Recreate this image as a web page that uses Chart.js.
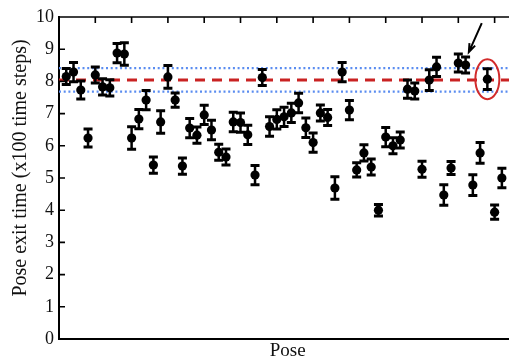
<!DOCTYPE html>
<html>
<head>
<meta charset="utf-8">
<script src="https://cdn.jsdelivr.net/npm/chart.js@4.4.0/dist/chart.umd.min.js"></script>
<style>
    html, body { margin: 0; padding: 0; background: #fff; overflow: hidden; }
    #wrap { position: relative; width: 521px; height: 358px; }
</style>
</head>
<body>
<div id="wrap"><canvas id="poseChart"></canvas></div>
<script>
// exit time of each pose (x100 time steps)
var exitTime = [8.15, 8.29, 7.73, 6.24, 8.2, 7.83, 7.8, 8.88, 8.85, 6.24,
                6.83, 7.42, 5.4, 6.74, 8.14, 7.42, 5.37, 6.55, 6.33, 6.96,
                6.49, 5.8, 5.65, 6.74, 6.72, 6.34, 5.09, 8.12, 6.6, 6.82,
                6.9, 7.02, 7.33, 6.56, 6.1, 7.02, 6.88, 4.69, 8.29, 7.11,
                5.25, 5.78, 5.34, 4.0, 6.27, 6.0, 6.18, 7.76, 7.7, 5.27,
                8.04, 8.45, 4.47, 5.31, 8.57, 8.51, 4.78, 5.78, 8.07, 3.94, 5.0];
// half length of the error bars
var exitErr = [0.25, 0.3, 0.28, 0.28, 0.25, 0.25, 0.25, 0.3, 0.35, 0.35,
               0.3, 0.3, 0.25, 0.35, 0.35, 0.22, 0.25, 0.3, 0.25, 0.3,
               0.3, 0.25, 0.25, 0.3, 0.3, 0.3, 0.3, 0.25, 0.3, 0.3,
               0.3, 0.3, 0.3, 0.3, 0.3, 0.25, 0.25, 0.35, 0.3, 0.3,
               0.22, 0.25, 0.25, 0.18, 0.3, 0.25, 0.25, 0.28, 0.25, 0.25,
               0.32, 0.3, 0.32, 0.2, 0.28, 0.25, 0.32, 0.32, 0.32, 0.22, 0.3];
var meanTime = 8.04;
var bandHigh = 8.41;
var bandLow = 7.68;
var yTicks = [0, 1, 2, 3, 4, 5, 6, 7, 8, 9, 10];
var xTicks = [5, 10, 15, 20, 25, 30, 35, 40, 45, 50, 55, 60];
var xMax = 63;
var circledPose = 59;
// arrow in data coordinates: tail -> tip
var arrowFrom = [58.23, 9.81];
var arrowTo = [56.45, 8.91];

Chart.defaults.font.family = '"Liberation Serif", "Times New Roman", serif';
Chart.defaults.color = '#111';

var points = exitTime.map(function (v, i) { return { x: i + 1, y: v }; });
var hLine = function (v) { return [{ x: 0, y: v }, { x: xMax, y: v }]; };

var extras = {
    id: 'extras',
    afterDatasetsDraw: function (chart) {
        var ctx = chart.ctx, xs = chart.scales.x, ys = chart.scales.y;
        ctx.save();
        ctx.strokeStyle = '#000';
        for (var i = 0; i < exitTime.length; i++) {
            var px = xs.getPixelForValue(i + 1);
            var t = ys.getPixelForValue(exitTime[i] + exitErr[i]);
            var b = ys.getPixelForValue(exitTime[i] - exitErr[i]);
            ctx.lineWidth = 2.5;
            ctx.beginPath();
            ctx.moveTo(px, t); ctx.lineTo(px, b);
            ctx.stroke();
            ctx.lineWidth = 3;
            ctx.beginPath();
            ctx.moveTo(px - 4.5, t); ctx.lineTo(px + 4.5, t);
            ctx.moveTo(px - 4.5, b); ctx.lineTo(px + 4.5, b);
            ctx.stroke();
        }
        // red circle round one pose
        ctx.strokeStyle = '#d22b2b';
        ctx.lineWidth = 2;
        ctx.beginPath();
        ctx.ellipse(xs.getPixelForValue(circledPose), ys.getPixelForValue(exitTime[circledPose - 1]),
            12, 20, 0, 0, Math.PI * 2);
        ctx.stroke();
        // arrow
        var x0 = xs.getPixelForValue(arrowFrom[0]), y0 = ys.getPixelForValue(arrowFrom[1]);
        var x1 = xs.getPixelForValue(arrowTo[0]), y1 = ys.getPixelForValue(arrowTo[1]);
        var ang = Math.atan2(y1 - y0, x1 - x0);
        ctx.strokeStyle = '#000';
        ctx.lineWidth = 2;
        ctx.beginPath();
        ctx.moveTo(x0, y0); ctx.lineTo(x1, y1);
        ctx.moveTo(x1 - 9 * Math.cos(ang - 0.35), y1 - 9 * Math.sin(ang - 0.35));
        ctx.lineTo(x1, y1);
        ctx.lineTo(x1 - 9 * Math.cos(ang + 0.35), y1 - 9 * Math.sin(ang + 0.35));
        ctx.stroke();
        ctx.restore();
    },
    afterDraw: function (chart) {
        var ctx = chart.ctx, xs = chart.scales.x, ys = chart.scales.y, a = chart.chartArea;
        ctx.save();
        ctx.strokeStyle = '#000';
        ctx.lineWidth = 1.6;
        ctx.beginPath();
        ctx.moveTo(a.left, a.top); ctx.lineTo(a.right, a.top);
        xTicks.forEach(function (v) {
            var px = xs.getPixelForValue(v);
            ctx.moveTo(px, a.top); ctx.lineTo(px, a.top + 6);
        });
        yTicks.forEach(function (v) {
            var py = ys.getPixelForValue(v);
            ctx.moveTo(a.left, py); ctx.lineTo(a.left + 6, py);
        });
        ctx.stroke();
        // y axis title
        ctx.fillStyle = '#111';
        ctx.font = '20px "Liberation Serif", serif';
        ctx.translate(21, 168);
        ctx.rotate(-Math.PI / 2);
        ctx.textAlign = 'center';
        ctx.textBaseline = 'middle';
        ctx.fillText('Pose exit time (x100 time steps)', 0, 0);
        ctx.restore();
    }
};

var canvas = document.getElementById('poseChart');
var myChart = new Chart(canvas, {
    type: 'scatter',
    data: {
        datasets: [{
            label: 'Pose',
            data: points,
            backgroundColor: '#000',
            borderWidth: 0,
            pointRadius: 4.6,
            order: 0
        }, {
            type: 'line',
            label: 'mean',
            data: hLine(meanTime),
            borderColor: '#c92222',
            borderWidth: 3,
            borderDash: [10, 7],
            pointRadius: 0,
            order: 1
        }, {
            type: 'line',
            label: 'upper',
            data: hLine(bandHigh),
            borderColor: '#5a8cf0',
            borderWidth: 2.2,
            borderDash: [2, 2.7],
            pointRadius: 0,
            order: 2
        }, {
            type: 'line',
            label: 'lower',
            data: hLine(bandLow),
            borderColor: '#5a8cf0',
            borderWidth: 2.2,
            borderDash: [2, 2.7],
            pointRadius: 0,
            order: 2
        }]
    },
    options: {
        responsive: true,
        maintainAspectRatio: false,
        animation: false,
        layout: { padding: { top: 17, right: 0, left: 0, bottom: 0 } },
        plugins: { legend: { display: false }, tooltip: { enabled: false } },
        scales: {
            x: {
                type: 'linear',
                min: 0,
                max: xMax,
                grid: { display: false },
                border: { display: true, color: '#000', width: 2 },
                ticks: { display: false },
                title: { display: true, text: 'Pose', font: { size: 19 }, padding: { top: 0, bottom: -4 } },
                afterFit: function (s) { s.height = 19; }
            },
            y: {
                min: 0,
                max: 10,
                grid: { display: false, drawTicks: false },
                border: { display: true, color: '#000', width: 2 },
                ticks: { stepSize: 1, padding: 5, font: { size: 18 } },
                afterFit: function (s) { s.width = 59; }
            }
        }
    },
    plugins: [extras]
});
</script>
</body>
</html>
